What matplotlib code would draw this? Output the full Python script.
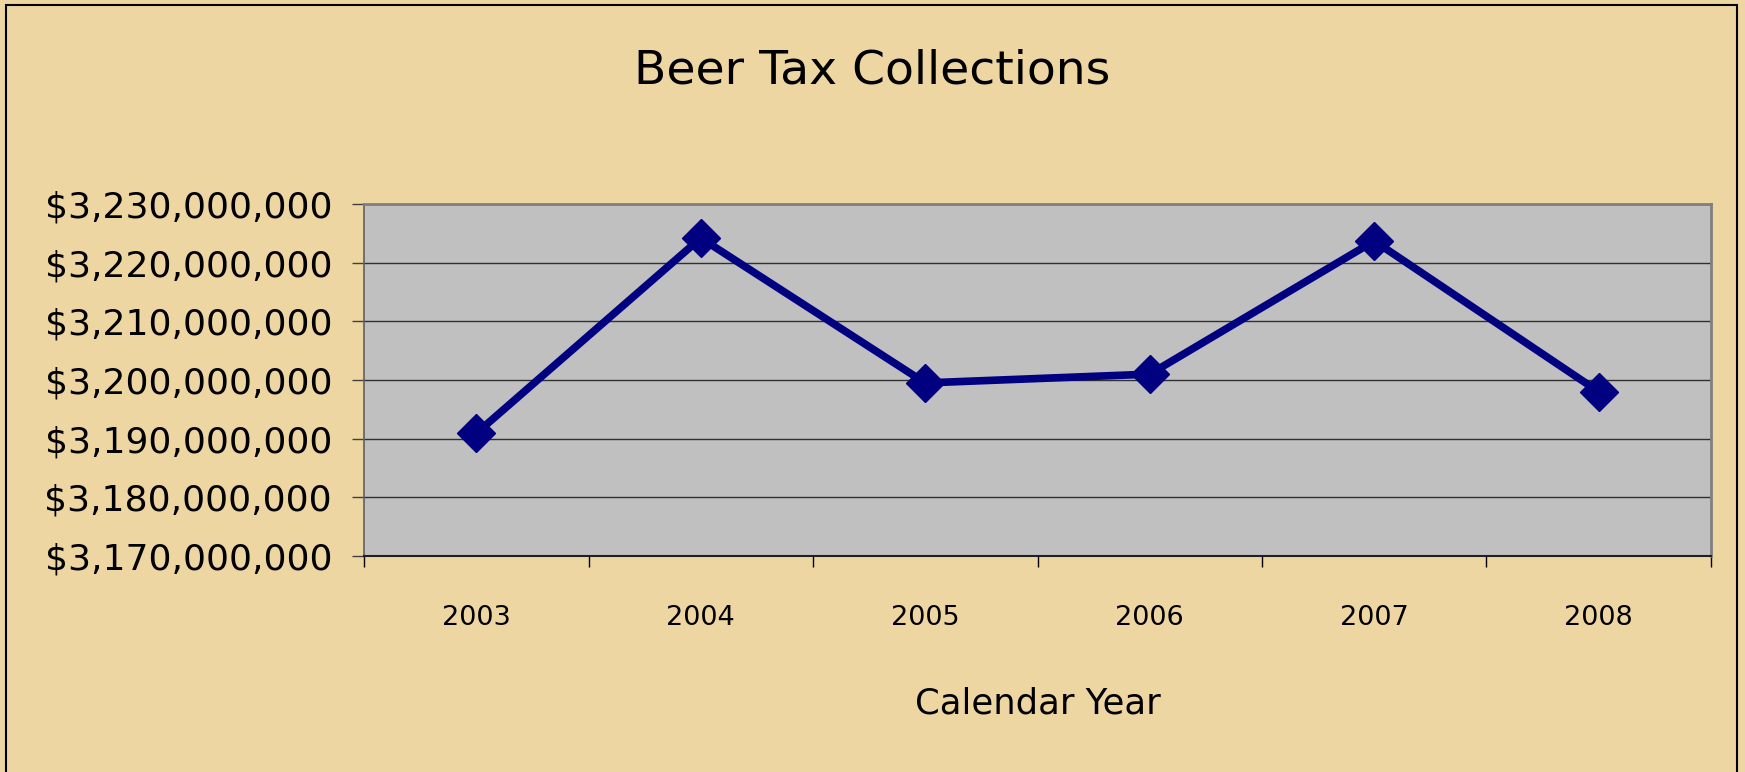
import matplotlib
matplotlib.use("Agg")
import matplotlib.pyplot as plt
from matplotlib.patches import Rectangle
from matplotlib.ticker import FuncFormatter

# beer tax collected per calendar year
years = ["2003", "2004", "2005", "2006", "2007", "2008"]
collections = [3190900000, 3224200000, 3199500000, 3201000000, 3223700000, 3198000000]

y_min = 3170000000
y_max = 3230000000
y_step = 10000000

paper = "#EDD6A2"
plot_grey = "#C0C0C0"
navy = "#000080"

fig = plt.figure(figsize=(17.45, 7.72), dpi=100, facecolor=paper)
ax = fig.add_axes([364 / 1745, 1 - 556 / 772, (1711 - 364) / 1745, (556 - 204) / 772])
ax.set_facecolor(plot_grey)

x = list(range(len(years)))
ax.plot(x, collections, color=navy, lw=5.5, marker="D", ms=19,
        mfc=navy, mec=navy, mew=1, zorder=3, solid_joinstyle="miter")

# y axis in dollars
ax.set_ylim(y_min, y_max)
ax.set_yticks(range(y_min, y_max + 1, y_step))
ax.yaxis.set_major_formatter(FuncFormatter(lambda v, p: "${:,.0f}".format(v)))
ax.tick_params(axis="y", direction="out", length=9, width=1, color="#404040",
               pad=14, labelsize=26, labelcolor="black")
ax.yaxis.grid(True, color="#303030", lw=1.0)
ax.set_axisbelow(True)

# categories sit between the tick marks
ax.set_xlim(-0.5, len(years) - 0.5)
ax.set_xticks([i - 0.5 for i in range(len(years) + 1)])
ax.set_xticklabels([])
ax.set_xticks(x, minor=True)
ax.set_xticklabels(years, minor=True)
ax.tick_params(axis="x", which="major", direction="out", length=8, width=1, color="black")
ax.tick_params(axis="x", which="minor", length=0, pad=35, labelsize=19.5)

for side in ["top", "right", "left"]:
    ax.spines[side].set_color("#808080")
    ax.spines[side].set_linewidth(2)
ax.spines["left"].set_color("#606060")
ax.spines["left"].set_linewidth(1.2)
ax.spines["bottom"].set_color("#202020")
ax.spines["bottom"].set_linewidth(1.5)

fig.text(0.5, 1 - 83 / 772, "Beer Tax Collections", ha="center", va="baseline",
         fontsize=34, color="black")
fig.text((364 + 1711) / 2 / 1745, 1 - 713 / 772, "Calendar Year", ha="center",
         va="baseline", fontsize=25.5, color="black")

# chart border
fig.patches.append(Rectangle((6 / 1745, -0.01), (1737 - 6) / 1745, 1.01 - 5 / 772,
                             transform=fig.transFigure, fill=False,
                             edgecolor="black", lw=1.5))

fig.savefig("out.png", dpi=100, facecolor=paper)
